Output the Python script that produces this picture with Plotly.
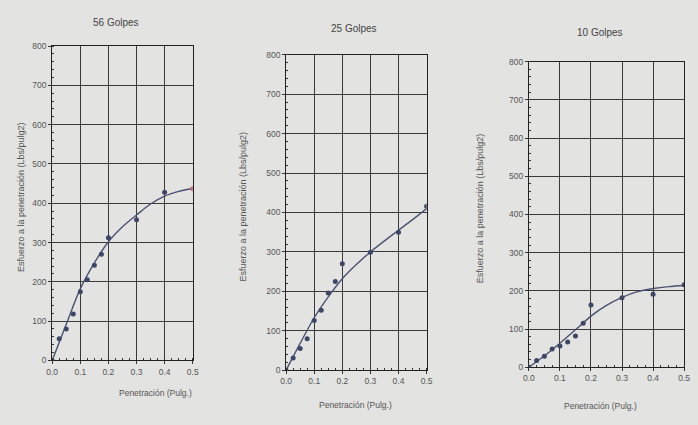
import plotly.graph_objects as go

# ---------------- data ----------------
pen = [0, 0.025, 0.05, 0.075, 0.1, 0.125, 0.15, 0.175, 0.2, 0.3, 0.4, 0.5]
esf_56 = [0, 55, 80, 118, 175, 205, 242, 270, 312, 358, 428, 437]
esf_25 = [0, 31, 55, 80, 126, 152, 196, 225, 270, 299, 350, 416]
esf_10 = [0, 18, 29, 48, 56, 66, 82, 115, 163, 182, 191, 216]

curve_x = [0, 0.05, 0.1, 0.15, 0.2, 0.25, 0.3, 0.35, 0.4, 0.45, 0.5]
curve_56 = [0, 92, 182, 248, 302, 340, 370, 398, 418, 430, 438]
curve_25 = [0, 68, 133, 186, 232, 268, 300, 328, 355, 382, 410]
curve_10 = [0, 30, 63, 98, 134, 162, 183, 198, 206, 211, 214]

titles = ["56 Golpes", "25 Golpes", "10 Golpes"]
y_title = "Esfuerzo a la penetración (Lbs/pulg2)"
x_title = "Penetración (Pulg.)"
x_ticks = [0, 0.1, 0.2, 0.3, 0.4, 0.5]
x_ticktext = ["0.0", "0.1", "0.2", "0.3", "0.4", "0.5"]
y_ticks = [0, 100, 200, 300, 400, 500, 600, 700, 800]

# ---------------- layout geometry (pixels) ----------------
W, H = 698, 425
panels = [  # x0, x1, ytop, ybottom
    (47, 190, 42, 364),
    (285, 428, 51, 374),
    (532, 690, 58, 371),
]
title_pos = [(112, 18), (354, 24), (604, 28)]
xtitle_pos = [(152, 397), (356, 410), (605, 411)]
ytitle_x = [16, 241, 482]

BG = "#e3e3e1"
GRID = "#3a3a3a"
TXT = "#555555"
LINE = "#4b5272"
MARK = "#3d4666"
FONT = "Liberation Sans, Arial"

fig = go.Figure()
series = [esf_56, esf_25, esf_10]
curves = [curve_56, curve_25, curve_10]

for i in range(3):
    xa = "x" if i == 0 else f"x{i+1}"
    ya = "y" if i == 0 else f"y{i+1}"
    fig.add_trace(go.Scatter(x=curve_x, y=curves[i], mode="lines",
                             line=dict(color=LINE, width=1.4, shape="spline", smoothing=1.0),
                             xaxis=xa, yaxis=ya, showlegend=False, hoverinfo="skip"))
    mcolors = [MARK] * len(pen)
    if i == 0:
        mcolors[-1] = "#c46a78"
    fig.add_trace(go.Scatter(x=pen, y=series[i], mode="markers",
                             marker=dict(color=mcolors, size=5),
                             xaxis=xa, yaxis=ya, showlegend=False))

    x0, x1, yt, yb = panels[i]
    axis_common = dict(showline=True, linecolor="#222", linewidth=1, mirror=True,
                       gridcolor=GRID, gridwidth=1, zeroline=False,
                       ticks="outside", ticklen=3, tickcolor="#333",
                       tickfont=dict(family=FONT, size=8.5, color=TXT))
    xkey = "xaxis" if i == 0 else f"xaxis{i+1}"
    ykey = "yaxis" if i == 0 else f"yaxis{i+1}"
    fig.update_layout(**{
        xkey: dict(domain=[x0 / W, x1 / W], range=[0, 0.5], anchor=ya,
                   tickvals=x_ticks, ticktext=x_ticktext,
                   minor=dict(dtick=0.025, ticks="inside", ticklen=2, tickcolor="#333", showgrid=False),
                   **axis_common),
        ykey: dict(domain=[1 - yb / H, 1 - yt / H], range=[0, 800], anchor=xa,
                   tickvals=y_ticks,
                   minor=dict(dtick=20, ticks="inside", ticklen=2, tickcolor="#333", showgrid=False),
                   **axis_common),
    })

    tx, ty = title_pos[i]
    fig.add_annotation(x=tx / W, y=1 - ty / H, xref="paper", yref="paper", text=titles[i],
                       xanchor="center", yanchor="middle",
                       showarrow=False, font=dict(family=FONT, size=10, color="#444"))
    ax_, ay_ = xtitle_pos[i]
    fig.add_annotation(x=ax_ / W, y=1 - ay_ / H, xref="paper", yref="paper", text=x_title,
                       xanchor="center", yanchor="middle",
                       showarrow=False, font=dict(family=FONT, size=8.5, color=TXT))
    fig.add_annotation(x=ytitle_x[i] / W, y=1 - ((yt + yb) / 2 - 6) / H, xref="paper", yref="paper",
                       text=y_title, textangle=-90, xanchor="center", yanchor="middle",
                       showarrow=False, font=dict(family=FONT, size=9, color=TXT))

fig.update_layout(width=W, height=H, margin=dict(l=0, r=0, t=0, b=0),
                  paper_bgcolor=BG, plot_bgcolor=BG)

fig.write_html("out.html")
